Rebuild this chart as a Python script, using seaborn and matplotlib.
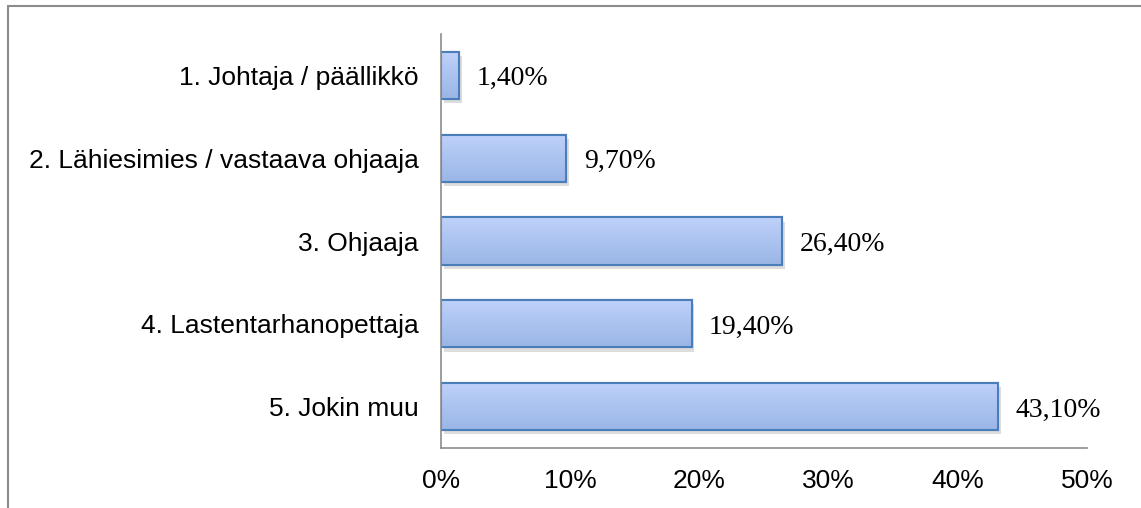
import matplotlib
matplotlib.use("Agg")
import matplotlib.pyplot as plt
from matplotlib.lines import Line2D
from matplotlib.patches import Rectangle
import matplotlib.patheffects as pe
from matplotlib.colors import LinearSegmentedColormap
import numpy as np
import seaborn as sns
import pandas as pd

categories = ["1. Johtaja / päällikkö", "2. Lähiesimies / vastaava ohjaaja",
              "3. Ohjaaja", "4. Lastentarhanopettaja", "5. Jokin muu"]
values = [1.4, 9.7, 26.4, 19.4, 43.1]
value_labels = ["1,40%", "9,70%", "26,40%", "19,40%", "43,10%"]
xticks = [0, 10, 20, 30, 40, 50]
xtick_labels = ["0%", "10%", "20%", "30%", "40%", "50%"]

sns.set_theme(style="white")
plt.rcParams['font.family'] = ['Liberation Sans', 'DejaVu Sans']

df = pd.DataFrame({"cat": categories, "val": values})

fig = plt.figure(figsize=(11.41, 5.08), dpi=100)
ax = fig.add_axes([441/1141, 1-448/508, (1087-441)/1141, (448-34)/508])

sns.barplot(data=df, x="val", y="cat", orient="h", ax=ax, width=0.57,
            color="#aec6f2", edgecolor="#4a7ebb", linewidth=1.5, saturation=1)

ax.set_xlim(0, 50)
ax.set_ylim(4.5, -0.5)

cmap = LinearSegmentedColormap.from_list("g", ["#bed1fa", "#9ab6e6"])
grad = np.linspace(0, 1, 64).reshape(-1, 1)
for p in list(ax.patches):
    p.set_path_effects([pe.SimplePatchShadow(offset=(2, -3), shadow_rgbFace="#909090", alpha=0.3),
                        pe.Normal()])
    x0, y0 = p.get_x(), p.get_y()
    w, h = p.get_width(), p.get_height()
    im = ax.imshow(grad, cmap=cmap, aspect="auto", extent=(x0, x0 + w, y0 + h, y0),
                   origin="upper", zorder=p.get_zorder() + 0.1, interpolation="bilinear")
    im.set_clip_path(p)
    ax.add_patch(Rectangle((x0, y0), w, h, fill=False, edgecolor="#4a7ebb",
                           linewidth=1.5, zorder=p.get_zorder() + 0.2))

ax.set_xlim(0, 50)
ax.set_ylim(4.5, -0.5)

for i, (v, lab) in enumerate(zip(values, value_labels)):
    ax.text(v + 1.35, i + 0.04, lab, va="center", ha="left", fontsize=20,
            family=["Liberation Serif", "DejaVu Serif"], color="black")

ax.set_xticks(xticks)
ax.set_xticklabels(xtick_labels, fontsize=19)
ax.set_yticks(range(len(categories)))
ax.set_yticklabels(categories, fontsize=19)
ax.tick_params(axis="y", length=0, pad=16, colors="black")
ax.tick_params(axis="x", length=0, pad=15, colors="black")
ax.set_xlabel("")
ax.set_ylabel("")
for s in ["top", "right"]:
    ax.spines[s].set_visible(False)
for s in ["left", "bottom"]:
    ax.spines[s].set_color("#8c8c8c")
    ax.spines[s].set_linewidth(1.2)

fig.add_artist(Line2D([8/1141, 8/1141], [0, 1-6/508], color="#8c8c8c", lw=1.5,
                      transform=fig.transFigure))
fig.add_artist(Line2D([8/1141, 1], [1-6/508, 1-6/508], color="#8c8c8c", lw=1.5,
                      transform=fig.transFigure))

fig.savefig("out.png", dpi=100, facecolor="white")
